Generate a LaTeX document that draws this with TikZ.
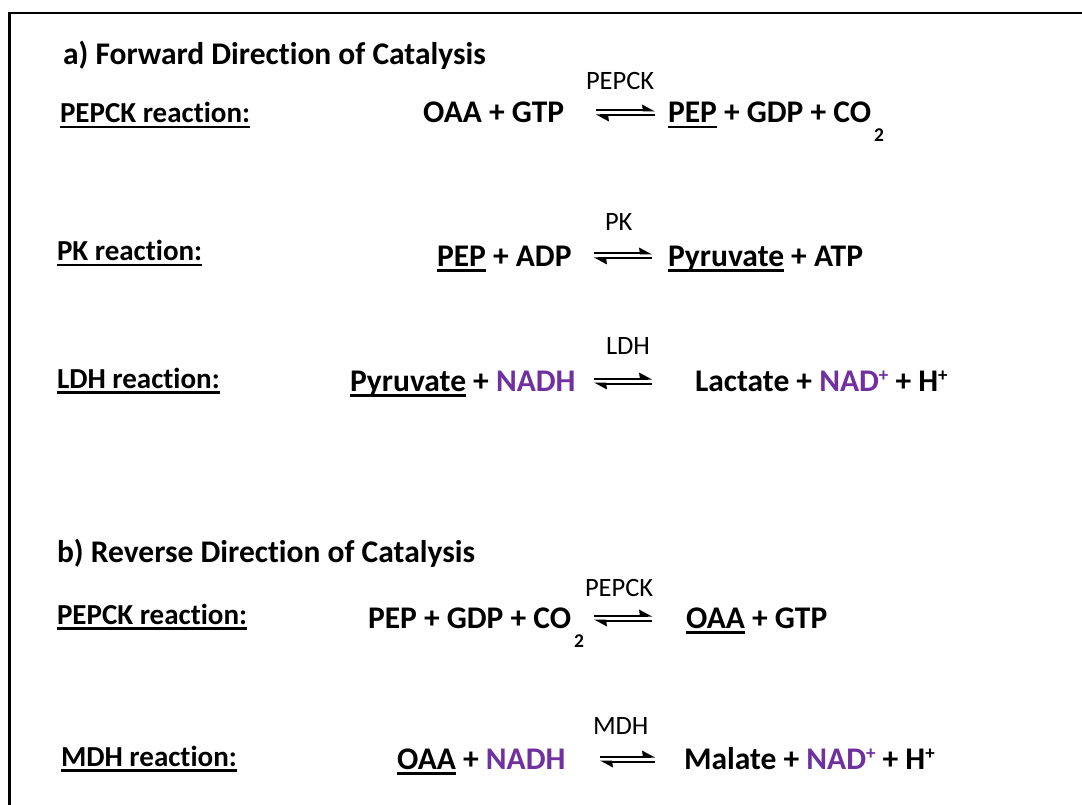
\documentclass[tikz,border=0pt]{standalone}
\usepackage{fontspec}
\setmainfont{Carlito}[Ligatures=NoCommon,RawFeature={-liga;-clig;-calt;-dlig}]
\definecolor{nadpurple}{RGB}{112,48,160}

% underlined word
\newsavebox\ulbox
\newcommand\ulw[1]{\sbox\ulbox{#1}\rlap{\rule[-5.5pt]{\wd\ulbox}{2.5pt}}\usebox\ulbox}
% small raised plus and lowered subscript two
\newcommand\supplus{\raisebox{10pt}{\fontsize{19}{19}\selectfont +}}
\newcommand\subtwo{\hspace{3pt}\raisebox{-19pt}{\fontsize{19.5}{19.5}\selectfont 2}}
\newcommand\nadh{\textcolor{nadpurple}{NADH}}
\newcommand\nadp{\textcolor{nadpurple}{NAD\supplus}}

\tikzset{
  heading/.style={font=\fontsize{31.5}{36}\selectfont\bfseries, anchor=base west, inner sep=0pt, outer sep=0pt},
  eqside/.style={font=\fontsize{31.5}{36}\selectfont\bfseries, anchor=base west, inner sep=0pt, outer sep=0pt},
  rxnlabel/.style={font=\fontsize{29}{34}\selectfont\bfseries, anchor=base west, inner sep=0pt, outer sep=0pt},
  enzyme/.style={font=\fontsize{26.5}{30}\selectfont, anchor=base west, inner sep=0pt, outer sep=0pt},
  eqline/.style={line width=2pt},
  barb/.style={fill=black, draw=none},
}

% equilibrium arrow between two named coordinates (left end, right end):
% upper line points right with an upper barb, lower line points left with a lower barb
\newcommand\equil[2]{%
  \draw[eqline] ([yshift=2.5pt]#1) -- ([xshift=-4pt,yshift=2.5pt]#2);
  \fill[barb] ([yshift=1.5pt]#2) -- ([xshift=-13pt,yshift=8.5pt]#2) -- ([xshift=-12pt,yshift=1.5pt]#2) -- cycle;
  \draw[eqline] ([xshift=4pt,yshift=-2.5pt]#1) -- ([yshift=-2.5pt]#2);
  \fill[barb] ([yshift=-1.5pt]#1) -- ([xshift=13pt,yshift=-8.5pt]#1) -- ([xshift=12pt,yshift=-1.5pt]#1) -- cycle;
}

\begin{document}
\begin{tikzpicture}[x=1pt,y=-1pt]
\useasboundingbox (0,0) rectangle (1082,805);
\fill[white] (0,0) rectangle (1082,805);

% frame
\draw[line width=2.6pt] (9.5,810) -- (9.5,13) -- (1090,13);

% a) forward direction
\node[heading] (ha) at (63,65) {a) Forward Direction of Catalysis};

\node[enzyme]   (e1) at (586,90)  {PEPCK};
\node[rxnlabel] (l1) at (60,123)  {\ulw{PEPCK reaction:}};
\node[eqside]   (s1) at (423,123) {OAA + GTP};
\node[eqside]   (p1) at (668,123) {\ulw{PEP} + GDP + CO\subtwo};
\coordinate (a1l) at (596,113);
\coordinate (a1r) at (655,113);
\equil{a1l}{a1r}

\node[enzyme]   (e2) at (605,231) {PK};
\node[rxnlabel] (l2) at (57,261)  {\ulw{PK reaction:}};
\node[eqside]   (s2) at (437,266) {\ulw{PEP} + ADP};
\node[eqside]   (p2) at (668,266) {\ulw{Pyruvate} + ATP};
\coordinate (a2l) at (594,256);
\coordinate (a2r) at (652,256);
\equil{a2l}{a2r}

\node[enzyme]   (e3) at (606,354) {LDH};
\node[rxnlabel] (l3) at (57,388)  {\ulw{LDH reaction:}};
\node[eqside]   (s3) at (350,391) {\ulw{Pyruvate} + \nadh};
\node[eqside]   (p3) at (695,391) {Lactate + \nadp{} + H\supplus};
\coordinate (a3l) at (594,381);
\coordinate (a3r) at (652,381);
\equil{a3l}{a3r}

% b) reverse direction
\node[heading] (hb) at (57,562) {b) Reverse Direction of Catalysis};

\node[enzyme]   (e4) at (585,596) {PEPCK};
\node[rxnlabel] (l4) at (57,624)  {\ulw{PEPCK reaction:}};
\node[eqside]   (s4) at (368,628) {PEP + GDP + CO\subtwo};
\node[eqside]   (p4) at (686,628) {\ulw{OAA} + GTP};
\coordinate (a4l) at (594,618);
\coordinate (a4r) at (652,618);
\equil{a4l}{a4r}

\node[enzyme]   (e5) at (593,734) {MDH};
\node[rxnlabel] (l5) at (61,766)  {\ulw{MDH reaction:}};
\node[eqside]   (s5) at (397,769) {\ulw{OAA} + \nadh};
\node[eqside]   (p5) at (684,769) {Malate + \nadp{} + H\supplus};
\coordinate (a5l) at (600,759);
\coordinate (a5r) at (655,759);
\equil{a5l}{a5r}
\end{tikzpicture}
\end{document}
